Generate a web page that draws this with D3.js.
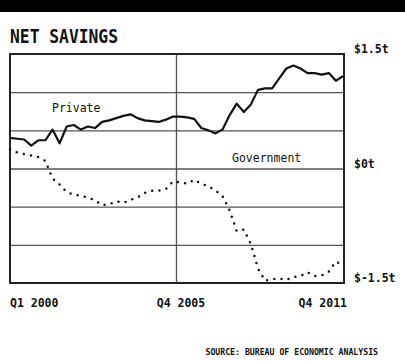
<!DOCTYPE html>
<html lang="en">
	<head>
		<meta charset="utf-8">
		<title>Net savings</title>
		<script src="https://d3js.org/d3.v7.min.js"></script>
		<style type="text/css">
			body { margin: 0; background: #fff; }
			text { font-family: "DejaVu Sans Mono", monospace; fill: #111; }
		</style>
	</head>
	<body>
		<script type="text/javascript">
			// quarterly, Q1 2000 .. Q4 2011, trillions of dollars
			var quarters = [];
			d3.range(2000, 2012).forEach(function(yr){
				[1,2,3,4].forEach(function(q){ quarters.push("Q" + q + " " + yr); });
			});

			var privateSavings = [0.40, 0.39, 0.38, 0.30, 0.37, 0.37, 0.51, 0.33, 0.55, 0.57, 0.51, 0.55,
				0.53, 0.61, 0.63, 0.66, 0.69, 0.71, 0.66, 0.63, 0.62, 0.61, 0.64, 0.68,
				0.68, 0.67, 0.65, 0.53, 0.50, 0.46, 0.51, 0.70, 0.85, 0.74, 0.84, 1.03,
				1.05, 1.05, 1.18, 1.31, 1.35, 1.31, 1.25, 1.25, 1.23, 1.25, 1.15, 1.21];

			var govSavings = [0.25, 0.21, 0.19, 0.17, 0.15, 0.10, -0.13, -0.21, -0.31, -0.34, -0.36, -0.38,
				-0.42, -0.48, -0.47, -0.43, -0.45, -0.41, -0.38, -0.32, -0.29, -0.29, -0.27, -0.17,
				-0.18, -0.20, -0.15, -0.20, -0.23, -0.29, -0.36, -0.55, -0.82, -0.80, -0.99, -1.31,
				-1.47, -1.45, -1.44, -1.46, -1.42, -1.41, -1.36, -1.41, -1.40, -1.35, -1.22, -1.27];

			var yTicks = [1.5, 0, -1.5];
			var yTickLabels = ["$1.5t", "$0t", "$-1.5t"];
			var xTicks = ["Q1 2000", "Q4 2005", "Q4 2011"];

			var W = 405, H = 361;
			var plot = {top: 54, bottom: 283, left: 10, right: 344};

			var svg = d3.select("body").append("svg")
				.attr("width", W)
				.attr("height", H);

			// black band on top
			svg.append("rect")
				.attr("x", 0).attr("y", 0)
				.attr("width", W).attr("height", 12)
				.attr("fill", "#000");

			svg.append("text")
				.attr("x", 10).attr("y", 43)
				.attr("font-size", "19px")
				.attr("font-weight", "bold")
				.attr("textLength", 108)
				.attr("lengthAdjust", "spacingAndGlyphs")
				.text("NET SAVINGS");

			var xscale = d3.scaleLinear()
				.domain([0, quarters.length - 1])
				.range([plot.left, plot.right - 1]);

			var yscale = d3.scaleLinear()
				.domain([-1.5, 1.5])
				.range([plot.bottom, plot.top]);

			// horizontal gridlines every 0.5t
			svg.append("g")
				.attr("transform", "translate(" + plot.left + ",0)")
				.call(d3.axisLeft(yscale)
					.tickValues(d3.range(-1, 1.01, 0.5))
					.tickSize(-(plot.right - plot.left))
					.tickFormat(""))
				.call(function(g){
					g.select(".domain").remove();
					g.selectAll("line").attr("stroke", "#555").attr("stroke-width", 1.4);
				});

			// year divider at start of 2006
			svg.append("line")
				.attr("x1", xscale(23.5)).attr("x2", xscale(23.5))
				.attr("y1", plot.top).attr("y2", plot.bottom)
				.attr("stroke", "#555")
				.attr("stroke-width", 1.4);

			svg.append("rect")
				.attr("x", plot.left).attr("y", plot.top)
				.attr("width", plot.right - plot.left).attr("height", plot.bottom - plot.top)
				.attr("fill", "none")
				.attr("stroke", "#222")
				.attr("stroke-width", 2);

			var line = d3.line()
				.x(function(d, i){ return xscale(i); })
				.y(function(d){ return yscale(d); });

			svg.append("path")
				.datum(privateSavings)
				.attr("d", line)
				.attr("fill", "none")
				.attr("stroke", "#111")
				.attr("stroke-width", 2.2)
				.attr("stroke-linejoin", "round");

			svg.append("path")
				.datum(govSavings)
				.attr("d", line)
				.attr("fill", "none")
				.attr("stroke", "#111")
				.attr("stroke-width", 2.5)
				.attr("stroke-linecap", "round")
				.attr("stroke-dasharray", "0,7.3");

			svg.append("text")
				.attr("x", 52).attr("y", 112)
				.attr("font-size", "11.5px")
				.text("Private");

			svg.append("text")
				.attr("x", 232).attr("y", 162)
				.attr("font-size", "11.5px")
				.text("Government");

			// y labels on the right
			svg.append("g")
				.selectAll("text")
				.data(yTicks)
				.enter()
				.append("text")
				.attr("x", 354)
				.attr("y", function(d){ return yscale(d) - 1; })
				.attr("font-size", "11.5px")
				.attr("font-weight", "bold")
				.text(function(d, i){ return yTickLabels[i]; });

			// x labels
			var xIdx = xTicks.map(function(t){ return quarters.indexOf(t); });
			var xAnchor = ["start", "middle", "end"];
			var xShift = [0, 8, 4];
			svg.append("g")
				.selectAll("text")
				.data(xTicks)
				.enter()
				.append("text")
				.attr("x", function(d, i){ return xscale(xIdx[i]) + xShift[i]; })
				.attr("y", 307)
				.attr("text-anchor", function(d, i){ return xAnchor[i]; })
				.attr("font-size", "11.5px")
				.attr("font-weight", "bold")
				.text(function(d){ return d; });

			svg.append("text")
				.attr("x", 378).attr("y", 355)
				.attr("text-anchor", "end")
				.attr("font-size", "8.2px")
				.attr("font-weight", "bold")
				.text("SOURCE: BUREAU OF ECONOMIC ANALYSIS");
		</script>
	</body>
</html>
